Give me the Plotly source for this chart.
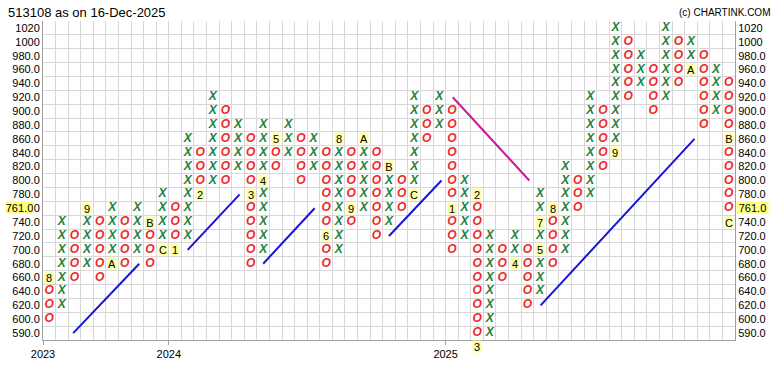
import plotly.graph_objects as go
import numpy as np

# ---------------- data ----------------
title_text = "513108 as on 16-Dec-2025"
credit_text = "(c) CHARTINK.COM"

# box levels (580 is the extra box below the visible range)
price_levels = [580, 590, 600, 620, 640, 660, 680, 700, 720, 740, 760, 780,
                800, 820, 840, 860, 880, 900, 920, 940, 960, 980, 1000, 1020]
y_tick_labels = ["590.0", "600.0", "620.0", "640.0", "660.0", "680.0", "700.0",
                 "720.0", "740.0", "760.0", "780.0", "800.0", "820.0", "840.0",
                 "860.0", "880.0", "900.0", "920.0", "940.0", "960.0", "980.0",
                 "1000", "1020"]

col_types = ["O", "X", "O", "X", "O", "X", "O", "X", "O", "X", "O", "X", "O", "X",
             "O", "X", "O", "X", "O", "X", "O", "X", "O", "X", "O", "X", "O", "X",
             "O", "X", "O", "X", "O", "X", "O", "X", "O", "X", "O", "X", "O", "X",
             "O", "X", "O", "X", "O", "X", "O", "X", "O", "X", "O", "X", "O"]
col_lows = [600, 620, 660, 680, 660, 680, 680, 700, 680, 700, 700, 720, 780, 800,
            800, 820, 680, 700, 820, 840, 800, 820, 680, 700, 740, 760, 720, 740,
            760, 780, 860, 880, 700, 720, 580, 590, 660, 680, 620, 640, 680, 700,
            760, 780, 820, 840, 920, 940, 900, 920, 940, 960, 880, 900, 740]
col_highs = [660, 740, 720, 760, 740, 760, 740, 760, 740, 780, 760, 860, 840, 920,
             900, 880, 860, 880, 860, 880, 860, 860, 840, 860, 840, 860, 840, 820,
             800, 920, 900, 920, 900, 800, 780, 720, 700, 720, 700, 780, 760, 820,
             800, 920, 900, 1020, 1000, 980, 960, 1020, 1000, 1000, 980, 960, 940]

month_cols = [0, 3, 5, 8, 9, 10, 12, 16, 17, 18, 22, 23, 24, 25, 27, 29, 32, 34,
              34, 37, 39, 39, 40, 45, 51, 54, 54]
month_prices = [660, 760, 680, 740, 700, 700, 780, 780, 800, 860, 720, 860, 760,
                860, 820, 780, 760, 780, 580, 680, 700, 740, 760, 840, 960, 860, 740]
month_texts = ["8", "9", "A", "B", "C", "1", "2", "3", "4", "5", "6", "8", "9",
               "A", "B", "C", "1", "2", "3", "4", "5", "7", "8", "9", "A", "B", "C"]

year_labels = ["2023", "2024", "2025"]
year_first_cols = [0, 10, 32]

last_price = 761.0
last_price_label = "761.0"
last_price_row_level = 760  # row whose axis label sits under the price badge

# trend lines: (start col, start price) -> (end col, end price)
support_x0 = [1.9, 11.0, 17.0, 27.0, 39.05]
support_p0 = [590, 700, 680, 720, 620]
support_x1 = [7.15, 15.13, 21.09, 31.17, 51.28]
support_p1 = [680, 780, 760, 800, 860]
resist_x0 = [32.07]
resist_p0 = [920]
resist_x1 = [38.15]
resist_p1 = [800]

# ---------------- helpers ----------------
lvl_idx = np.arange(len(price_levels)) - 1  # 590 -> 0


def row_of(p):
    return float(np.interp(p, price_levels, lvl_idx))


n_cols = len(col_types)
n_rows = len(y_tick_labels)
label_cells = set((c, p) for c, p in zip(month_cols, month_prices))

xs_x, ys_x, xs_o, ys_o = [], [], [], []
for c, (t, lo, hi) in enumerate(zip(col_types, col_lows, col_highs)):
    for p in price_levels:
        if lo <= p <= hi and (c, p) not in label_cells:
            if t == "X":
                xs_x.append(c); ys_x.append(row_of(p))
            else:
                xs_o.append(c); ys_o.append(row_of(p))

# axis labels: the price badge covers the 760 row label (only its last "0"
# peeks out on the left side, nothing on the right side)
covered_row = int(row_of(last_price_row_level))
left_labels = list(y_tick_labels)
left_labels[covered_row] = y_tick_labels[covered_row][-1]
right_labels = list(y_tick_labels)
right_labels[covered_row] = ""

FONT = "Liberation Sans, Arial, sans-serif"
fig = go.Figure()

fig.add_trace(go.Scatter(x=xs_x, y=ys_x, mode="text", text=["X"] * len(xs_x),
                         textfont=dict(family=FONT, size=12, color="#23803a",
                                       style="italic", weight="bold"),
                         hoverinfo="skip", showlegend=False, cliponaxis=False))
fig.add_trace(go.Scatter(x=xs_o, y=ys_o, mode="text", text=["O"] * len(xs_o),
                         textfont=dict(family=FONT, size=12, color="#f02828",
                                       style="italic", weight="bold"),
                         hoverinfo="skip", showlegend=False, cliponaxis=False))

for x0, p0, x1, p1 in zip(support_x0, support_p0, support_x1, support_p1):
    fig.add_trace(go.Scatter(x=[x0, x1], y=[row_of(p0), row_of(p1)], mode="lines",
                             line=dict(color="#1515d8", width=2),
                             hoverinfo="skip", showlegend=False))
for x0, p0, x1, p1 in zip(resist_x0, resist_p0, resist_x1, resist_p1):
    fig.add_trace(go.Scatter(x=[x0, x1], y=[row_of(p0), row_of(p1)], mode="lines",
                             line=dict(color="#c8189a", width=2),
                             hoverinfo="skip", showlegend=False))

# dummy trace on the right axis
fig.add_trace(go.Scatter(x=[None], y=[None], yaxis="y2", showlegend=False))

L, R, T, B = 40, 42, 21, 29
W, H = 778, 372
pw, ph = W - L - R, H - T - B


def px_x(p):
    return (p - L) / pw


def px_y(p):
    return (H - B - p) / ph


def row_paper(p):
    return (row_of(p) + 0.5) / n_rows


annotations = []
for c, p, t in zip(month_cols, month_prices, month_texts):
    annotations.append(dict(x=(c + 0.5) / n_cols, y=row_paper(p),
                            xref="paper", yref="paper", text=t,
                            xanchor="center", yanchor="middle",
                            showarrow=False, bgcolor="#ffffa8", borderpad=0,
                            width=8, height=11,
                            font=dict(family=FONT, size=11, color="#000000")))

annotations.append(dict(x=px_x(3), y=px_y(12), xref="paper", yref="paper",
                        text=title_text, showarrow=False, xanchor="left",
                        yanchor="middle",
                        font=dict(family=FONT, size=13, color="#000000")))
annotations.append(dict(x=px_x(773), y=px_y(12), xref="paper", yref="paper",
                        text=credit_text, showarrow=False, xanchor="right",
                        yanchor="middle",
                        font=dict(family=FONT, size=10, color="#000000")))
annotations.append(dict(x=px_x(2), y=row_paper(last_price), xref="paper", yref="paper",
                        text=last_price_label, showarrow=False, xanchor="left",
                        yanchor="middle", bgcolor="#ffff80", borderpad=0,
                        width=27, height=11,
                        font=dict(family=FONT, size=11, color="#000000")))
annotations.append(dict(x=px_x(737.5), y=row_paper(last_price), xref="paper",
                        yref="paper",
                        text=last_price_label, showarrow=False, xanchor="left",
                        yanchor="middle", bgcolor="#ffff80", borderpad=0,
                        width=31, height=11,
                        font=dict(family=FONT, size=11, color="#000000")))

grid_x = [i - 0.5 for i in range(n_cols + 1)]
grid_y = [i - 0.5 for i in range(n_rows + 1)]

yaxis_common = dict(range=[-0.5, n_rows - 0.5], tickmode="array",
                    tickvals=list(range(n_rows)),
                    showgrid=False, zeroline=False, ticks="", ticklen=0,
                    showline=True, linecolor="#a0a0a0", linewidth=1,
                    tickfont=dict(family=FONT, size=11, color="#000000"),
                    fixedrange=True)

fig.update_layout(
    width=W, height=H,
    margin=dict(l=L, r=R, t=T, b=B, pad=0),
    paper_bgcolor="#ffffff", plot_bgcolor="#ffffff",
    showlegend=False,
    xaxis=dict(range=[-0.5, n_cols - 0.5], tickmode="array",
               tickvals=[c - 0.5 for c in year_first_cols], ticktext=year_labels,
               ticks="outside", ticklen=4, tickcolor="#a0a0a0",
               showgrid=False, zeroline=False,
               showline=True, linecolor="#a0a0a0", linewidth=1,
               tickfont=dict(family=FONT, size=11, color="#000000"),
               minor=dict(tickmode="array", tickvals=grid_x, showgrid=True,
                          gridcolor="#d8d8d8", gridwidth=1, ticks=""),
               fixedrange=True),
    yaxis=dict(**yaxis_common, side="left", ticktext=left_labels,
               minor=dict(tickmode="array", tickvals=grid_y, showgrid=True,
                          gridcolor="#d8d8d8", gridwidth=1, ticks="")),
    yaxis2=dict(**yaxis_common, side="right", overlaying="y", matches="y",
                ticktext=right_labels),
    annotations=annotations,
)

fig.write_html("out.html")
